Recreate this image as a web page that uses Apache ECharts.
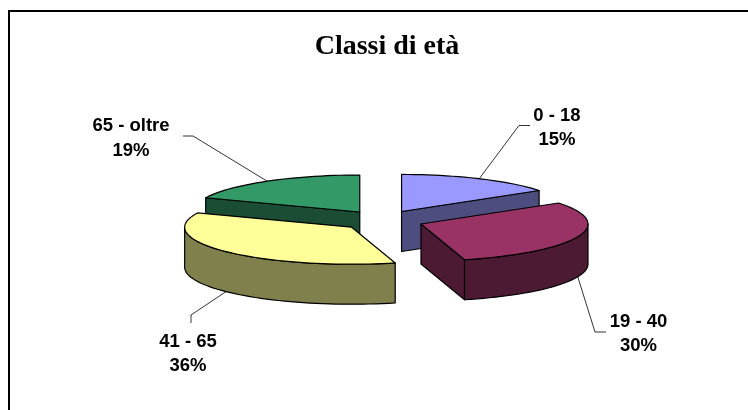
<!DOCTYPE html>
<html><head><meta charset="utf-8">
<style>html,body{margin:0;padding:0;background:#fff}#c{width:748px;height:410px}</style>
<script src="https://cdn.jsdelivr.net/npm/echarts@6/dist/echarts.min.js"></script>
</head><body><div id="c"></div>
<script>
const titleText = 'Classi di età';
const categories = ['0 - 18', '19 - 40', '41 - 65', '65 - oltre'];
const values = [15.4, 30.4, 35.5, 18.7];
const topColors = ['#9999FF', '#993366', '#FFFF99', '#339966'];
const sideColors = ['#4D4D80', '#4D1A33', '#80804D', '#1A4D33'];
const labelCenters = [[557, 128], [638.5, 334], [188, 354], [131, 138.5]];
const leaderElbows = [[[530, 125.5], [519, 125.5]], [[606, 332], [595, 332]], [[191, 323], [191, 315]], [[183, 136], [193, 136]]];

const PIE = {cx: 382.5, cy: 220.5, rx: 167, ry: 37, h: 40, ex: 41, ey: 10.2};
const total = values.reduce((a, b) => a + b, 0);
let acc = 0;
const slices = values.map((v, i) => {
  const a0 = acc / total * 2 * Math.PI; acc += v;
  const a1 = acc / total * 2 * Math.PI;
  const mid = (a0 + a1) / 2;
  return {i, a0, a1, mid, c: [PIE.cx + PIE.ex * Math.sin(mid), PIE.cy - PIE.ey * Math.cos(mid)]};
});
const pt = (s, a, dy = 0) => [s.c[0] + PIE.rx * Math.sin(a), s.c[1] - PIE.ry * Math.cos(a) + dy];
function arc(s, a0, a1, dy = 0) {
  const n = Math.max(2, Math.ceil((a1 - a0) / 0.04)), out = [];
  for (let k = 0; k <= n; k++) out.push(pt(s, a0 + (a1 - a0) * k / n, dy));
  return out;
}
const line = {stroke: '#000', lineWidth: 1.2, lineJoin: 'round'};
function renderSlice(params, api) {
  const s = slices[api.value(0)], kids = [], H = PIE.h;
  const poly = (points, fill, z2) => kids.push({type: 'polygon', shape: {points}, z2,
    style: Object.assign({fill}, line)});
  const front = Math.cos(s.mid) < 0 ? 10 : 0;
  const side = sideColors[s.i];
  // straight cut faces whose normal points towards the viewer
  [[s.a0, -1], [s.a1, 1]].forEach(([a, sign]) => {
    if (sign * Math.sin(a) > 0.01) {
      const p = pt(s, a);
      poly([s.c, p, [p[0], p[1] + H], [s.c[0], s.c[1] + H]], side, front + 1);
    }
  });
  // curved outer wall where it faces the viewer
  const lo = Math.max(s.a0, Math.PI / 2), hi = Math.min(s.a1, 3 * Math.PI / 2);
  if (hi > lo) {
    poly(arc(s, lo, hi).concat(arc(s, lo, hi, H).reverse()), side, front + 2);
  }
  poly([s.c].concat(arc(s, s.a0, s.a1)), topColors[s.i], front + 3);
  return {type: 'group', children: kids};
}
function renderLeader(params, api) {
  const s = slices[api.value(0)], H = Math.cos(s.mid) < 0 ? PIE.h : 0;
  return {type: 'polyline', shape: {points: leaderElbows[s.i].concat([pt(s, s.mid, H)])}, z2: 30,
    style: {stroke: '#000', lineWidth: 0.8, fill: null}};
}
function renderLabel(params, api) {
  const i = api.value(0);
  return {type: 'text', z2: 40, x: labelCenters[i][0], y: labelCenters[i][1],
    style: {text: categories[i] + '\n' + Math.round(values[i] / total * 100) + '%',
      font: 'bold 18.5px "Liberation Sans"', lineHeight: 24.5, fill: '#000',
      align: 'center', verticalAlign: 'middle'}};
}
const idx = categories.map((_, i) => [i]);
const chart = echarts.init(document.getElementById('c'), null, {renderer: 'canvas'});
chart.setOption({
  animation: false,
  backgroundColor: '#fff',
  title: {text: titleText, left: 382, top: 28, textAlign: 'center',
    textStyle: {fontFamily: '"Liberation Serif"', fontWeight: 'bold', fontSize: 28, color: '#000'}},
  graphic: [{type: 'rect', shape: {x: 9, y: 11, width: 760, height: 420}, silent: true,
    style: {fill: 'none', stroke: '#000', lineWidth: 2}}],
  series: [
    {type: 'custom', coordinateSystem: 'none', renderItem: renderSlice, data: idx, z: 2},
    {type: 'custom', coordinateSystem: 'none', renderItem: renderLeader, data: idx, z: 3},
    {type: 'custom', coordinateSystem: 'none', renderItem: renderLabel, data: idx, z: 4}
  ]
});
</script></body></html>
